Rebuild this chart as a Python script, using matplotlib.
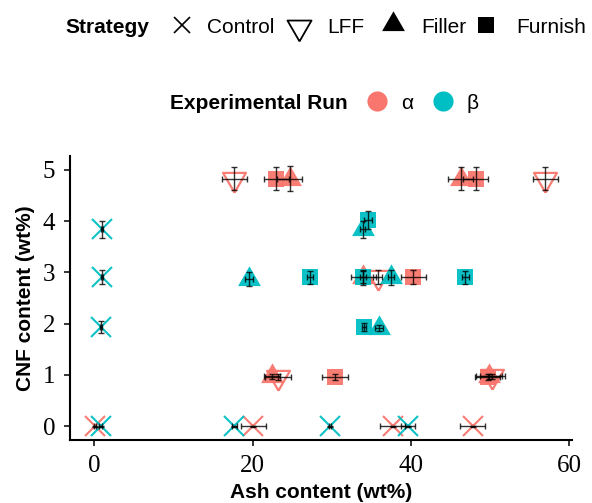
import numpy as np
import matplotlib
matplotlib.use("Agg")
from matplotlib import pyplot as plt
from matplotlib.lines import Line2D

# colours of the two experimental runs (ggplot default hues)
ALPHA_COL = "#F8766D"
BETA_COL = "#00BFC4"

# ---- data: (ash content, CNF content) with standard deviations ----
# run alpha
a_control_x = [0.1, 20.1, 37.7, 47.8]
a_control_y = [0.0, 0.0, 0.0, 0.0]
a_control_xerr = [0.1, 1.6, 1.6, 1.6]
a_control_yerr = [0.01, 0.01, 0.01, 0.01]

a_lff_x = [17.7, 57.0, 35.8, 23.2, 50.3]
a_lff_y = [4.83, 4.83, 2.91, 0.96, 0.97]
a_lff_xerr = [1.6, 1.6, 0.6, 1.6, 1.6]
a_lff_yerr = [0.22, 0.22, 0.14, 0.06, 0.05]

a_filler_x = [24.7, 46.3, 34.0, 22.5, 49.9]
a_filler_y = [4.83, 4.83, 2.91, 0.97, 0.97]
a_filler_xerr = [1.6, 1.6, 1.6, 1.0, 1.6]
a_filler_yerr = [0.24, 0.22, 0.12, 0.05, 0.05]

a_furnish_x = [23.0, 48.2, 40.3, 30.4, 49.7]
a_furnish_y = [4.83, 4.83, 2.91, 0.96, 0.96]
a_furnish_xerr = [1.6, 1.6, 1.6, 1.6, 1.6]
a_furnish_yerr = [0.22, 0.22, 0.14, 0.06, 0.05]

# run beta
b_control_x = [0.8, 17.7, 29.8, 39.6, 0.97, 0.97, 0.85]
b_control_y = [0.0, 0.0, 0.0, 0.0, 3.84, 2.91, 1.93]
b_control_xerr = [0.2, 0.3, 0.1, 0.9, 0.1, 0.1, 0.1]
b_control_yerr = [0.01, 0.01, 0.01, 0.01, 0.17, 0.14, 0.12]

b_filler_x = [19.5, 33.9, 37.5, 36.0]
b_filler_y = [2.87, 3.84, 2.90, 1.92]
b_filler_xerr = [0.5, 0.3, 0.4, 0.5]
b_filler_yerr = [0.13, 0.17, 0.14, 0.06]

b_furnish_x = [27.3, 34.0, 46.9, 34.6, 34.1]
b_furnish_y = [2.90, 2.90, 2.90, 4.02, 1.94]
b_furnish_xerr = [0.4, 0.4, 0.4, 0.5, 0.3]
b_furnish_yerr = [0.12, 0.14, 0.12, 0.18, 0.08]

x_ticks = [0, 20, 40, 60]
y_ticks = [0, 1, 2, 3, 4, 5]

# triangles centred on their centroid, like R's pch 2/6/17
TRI_UP = [(0, 1.1547), (-1, -0.57735), (1, -0.57735), (0, 1.1547)]
TRI_DOWN = [(0, -1.1547), (-1, 0.57735), (1, 0.57735), (0, -1.1547)]

W, H = 592, 503
fig = plt.figure(figsize=(W / 100, H / 100), dpi=100)
ax = fig.add_axes([70 / W, 1 - 440 / H, 502 / W, 284 / H])

series = [
    (a_control_x, a_control_y, a_control_xerr, a_control_yerr, ALPHA_COL, "control"),
    (a_lff_x, a_lff_y, a_lff_xerr, a_lff_yerr, ALPHA_COL, "lff"),
    (a_filler_x, a_filler_y, a_filler_xerr, a_filler_yerr, ALPHA_COL, "filler"),
    (a_furnish_x, a_furnish_y, a_furnish_xerr, a_furnish_yerr, ALPHA_COL, "furnish"),
    (b_control_x, b_control_y, b_control_xerr, b_control_yerr, BETA_COL, "control"),
    (b_filler_x, b_filler_y, b_filler_xerr, b_filler_yerr, BETA_COL, "filler"),
    (b_furnish_x, b_furnish_y, b_furnish_xerr, b_furnish_yerr, BETA_COL, "furnish"),
]


def marker_kw(kind, color):
    if kind == "control":
        return dict(marker="x", markersize=14, markeredgewidth=1.5, color=color)
    if kind == "lff":
        return dict(marker=TRI_DOWN, markersize=19, markerfacecolor="none",
                    markeredgecolor=color, markeredgewidth=1.6)
    if kind == "filler":
        return dict(marker=TRI_UP, markersize=19, color=color, markeredgewidth=0)
    return dict(marker="s", markersize=12, color=color, markeredgewidth=0)


for x, y, xe, ye, col, kind in series:
    ax.plot(x, y, linestyle="none", alpha=0.95, zorder=2, **marker_kw(kind, col))

for x, y, xe, ye, col, kind in series:
    ax.errorbar(x, y, xerr=xe, yerr=ye, fmt="none", ecolor="black",
                elinewidth=1.0, capsize=2, capthick=1.0, alpha=0.8, zorder=3)

ax.set_xlim(-3.07, 60.37)
ax.set_ylim(-0.27, 5.27)
ax.set_xticks(x_ticks)
ax.set_yticks(y_ticks)

for side in ["top", "right"]:
    ax.spines[side].set_visible(False)
for side in ["left", "bottom"]:
    ax.spines[side].set_linewidth(1.5)

ax.tick_params(direction="out", length=4.5, width=1.1, pad=6, color="black")
for lab in ax.get_xticklabels() + ax.get_yticklabels():
    lab.set_family("Liberation Serif")
    lab.set_fontsize(18)

ax.set_xlabel("Ash content (wt%)", family="Liberation Sans", weight="bold", fontsize=15)
ax.set_ylabel("CNF content (wt%)", family="Liberation Sans", weight="bold", fontsize=15)
ax.xaxis.set_label_coords(0.5, -0.152)
ax.yaxis.set_label_coords(-0.07, 0.5)


# ---- legends on top (built by hand to get ggplot's horizontal layout) ----
def fx(px):
    return px / W


def fy(py):
    return 1 - py / H


def legend_marker(px, py, **kw):
    fig.add_artist(Line2D([fx(px)], [fy(py)], transform=fig.transFigure,
                          linestyle="none", **kw))


def legend_text(px, base, s, bold=False):
    fig.text(fx(px), fy(base), s, family=["Liberation Sans", "DejaVu Sans"],
             fontsize=15, weight="bold" if bold else "normal",
             ha="left", va="baseline")


row1 = 25
base1 = 33
legend_text(65, base1, "Strategy", bold=True)
legend_marker(181.5, row1, marker="x", markersize=11, markeredgewidth=1.2, color="black")
legend_text(207, base1, "Control")
legend_marker(299, row1 + 2, marker=TRI_DOWN, markersize=20, markerfacecolor="none",
              markeredgecolor="black", markeredgewidth=1.3)
legend_text(327, base1, "LFF")
legend_marker(393, row1 - 1, marker=TRI_UP, markersize=19, color="black", markeredgewidth=0)
legend_text(421, base1, "Filler")
legend_marker(486, row1, marker="s", markersize=11.5, color="black", markeredgewidth=0)
legend_text(516, base1, "Furnish")

row2 = 101
base2 = 109
legend_text(170, base2, "Experimental Run", bold=True)
legend_marker(377, row2, marker="o", markersize=14.5, color=ALPHA_COL, markeredgewidth=0)
legend_text(401, base2, "α")
legend_marker(443, row2, marker="o", markersize=14.5, color=BETA_COL, markeredgewidth=0)
legend_text(467, base2, "β")

fig.savefig("out.png", dpi=100)
